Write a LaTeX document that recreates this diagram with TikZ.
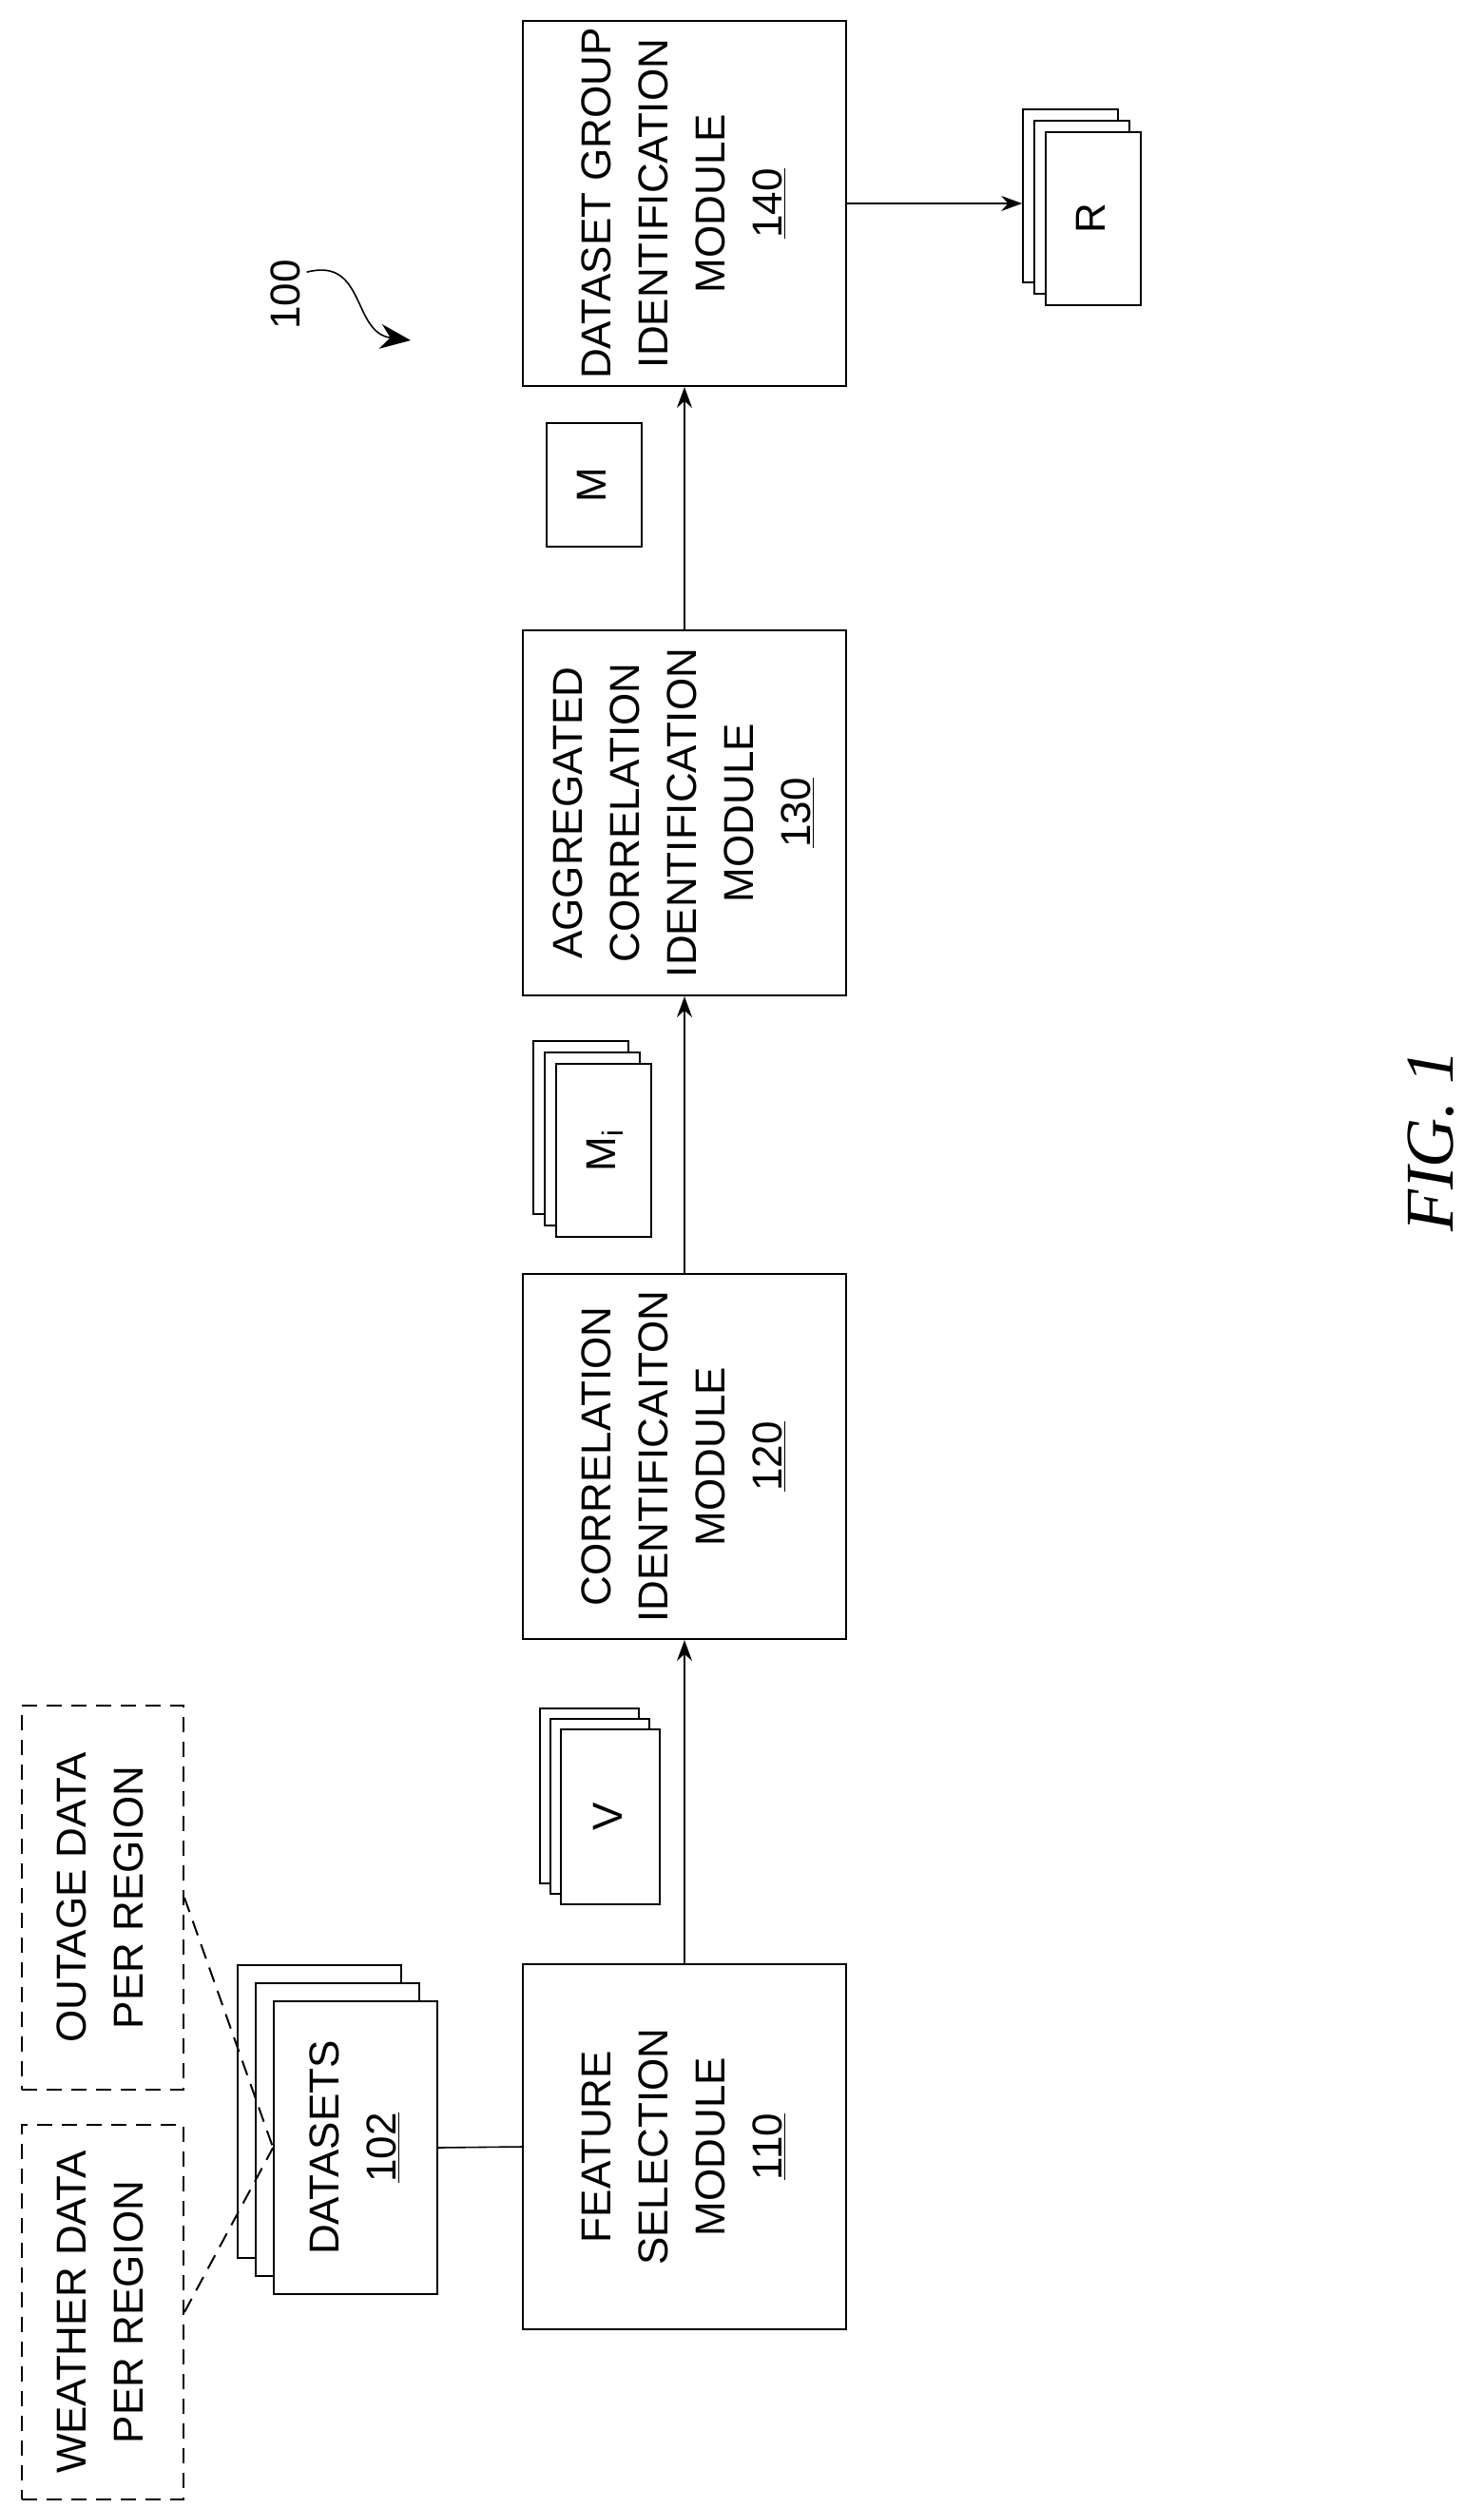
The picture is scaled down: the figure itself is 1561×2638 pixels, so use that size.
\documentclass[tikz,border=0pt]{standalone}
\usepackage{fontspec}
\setmainfont{Liberation Sans}
\newfontfamily\figfont{Liberation Serif}
\usetikzlibrary{arrows.meta}
\newcommand{\rt}[1]{\rotatebox{90}{\fontsize{22}{30}\selectfont\begin{tabular}{@{}c@{}}#1\end{tabular}}}
\tikzset{blk/.style={draw=black,line width=1pt,fill=white,minimum width=170pt,minimum height=192pt,inner sep=0pt},
dblk/.style={draw=black,line width=1pt,dash pattern=on 8pt off 5pt,minimum width=85pt,inner sep=0pt},
page/.style={draw=black,line width=0.8pt,fill=white,inner sep=0pt},
flow/.style={line width=0.8pt,-{Stealth[length=11pt,width=8pt]}}}
\begin{document}
\begin{tikzpicture}[x=0.5pt,y=-0.5pt]
\useasboundingbox (0,0) rectangle (1561,2638);
% modules
\node[blk] (b140) at (720,214) {\rt{DATASET GROUP\\IDENTIFICATION\\MODULE\\\underline{140}}};
\node[blk] (b130) at (720,855) {\rt{AGGREGATED\\CORRELATION\\IDENTIFICATION\\MODULE\\\underline{130}}};
\node[blk] (b120) at (720,1532) {\rt{CORRELATION\\IDENTIFICAITON\\MODULE\\\underline{120}}};
\node[blk] (b110) at (720,2258) {\rt{FEATURE\\SELECTION\\MODULE\\\underline{110}}};
% result stacks
\foreach \d/\n in {24/rc,12/rb}
  \node[page,minimum width=50pt,minimum height=91pt] (\n) at (1150-\d,230-\d) {};
\node[page,minimum width=50pt,minimum height=91pt] (ra) at (1150,230) {\rt{R}};
\node[page,minimum width=50pt,minimum height=65pt] (m) at (625,510) {\rt{M}};
\foreach \d in {24,12}
  \node[page,minimum width=50pt,minimum height=91pt] at (635-\d,1210-\d) {};
\node[page,minimum width=50pt,minimum height=91pt] (mi) at (635,1210) {\rt{M\textsubscript{i}}};
\foreach \d in {22,11}
  \node[page,minimum width=52pt,minimum height=92pt] at (642-\d,1911-\d) {};
\node[page,minimum width=52pt,minimum height=92pt] (v) at (642,1911) {\rt{V}};
\foreach \d in {38,19}
  \node[page,minimum width=86pt,minimum height=154pt] at (374-\d,2259-\d) {};
\node[page,minimum width=86pt,minimum height=154pt] (ds) at (374,2259) {\rt{DATASETS\\\underline{102}}};
% inputs
\node[dblk,minimum height=202pt] (outage) at (108,1996) {\rt{OUTAGE DATA\\PER REGION}};
\node[dblk,minimum height=197pt] (weather) at (108,2432) {\rt{WEATHER DATA\\PER REGION}};
% connectors
\draw[dblk] (outage.east) -- (ds.west);
\draw[dblk] (weather.east) -- (ds.west);
\draw[line width=0.8pt] (ds.east) -- (b110.west);
\draw[flow] (b110.north) -- (b120.south);
\draw[flow] (b120.north) -- (b130.south);
\draw[flow] (b130.north) -- (b140.south);
\draw[flow] (b140.east) -- (rc.west |- b140.east);
% reference label
\node (lbl) at (300,310) {\rotatebox{90}{\fontsize{22}{26}\selectfont 100}};
\coordinate (lblend) at (432,358);
\draw[line width=0.8pt,-{Stealth[length=16pt,width=13pt]}] (lbl.north east) ++(0,20) .. controls (385,270) and (370,350) .. (lblend);
\node at (1505,1200) {\rotatebox{90}{\figfont\itshape\fontsize{36}{40}\selectfont FIG. 1}};
\end{tikzpicture}
\end{document}
